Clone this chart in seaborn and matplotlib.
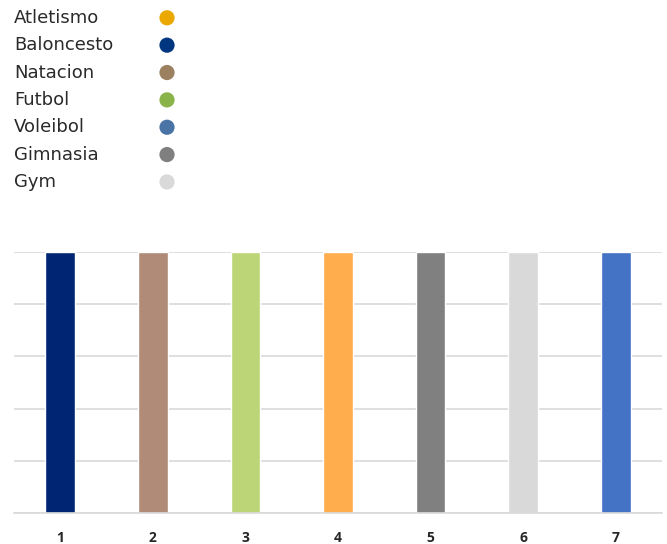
import matplotlib
matplotlib.use("Agg")
import matplotlib.pyplot as plt
import seaborn as sns
import pandas as pd

# legend entries (top-left key)
SPORTS = ["Atletismo", "Baloncesto", "Natacion", "Futbol", "Voleibol", "Gimnasia", "Gym"]
SPORT_COLORS = ["#EAA800", "#003580", "#9C8160", "#8AB34A", "#4A74A6", "#7F7F7F", "#D9D9D9"]

# bars
CATEGORIES = ["1", "2", "3", "4", "5", "6", "7"]
VALUES = [5, 5, 5, 5, 5, 5, 5]
BAR_COLORS = ["#002673", "#B08B77", "#BCD576", "#FFAD4D", "#808080", "#D9D9D9", "#4472C4"]


def main():
    sns.set_theme(style="white")
    plt.rcParams["font.family"] = ["DejaVu Sans"]

    fig = plt.figure(figsize=(6.67, 5.44), dpi=100)

    # bar chart
    ax = fig.add_axes([0.021, 0.057, 0.9715, 0.48])
    df = pd.DataFrame({"cat": CATEGORIES, "val": VALUES})
    sns.barplot(data=df, x="cat", y="val", hue="cat", palette=BAR_COLORS,
                legend=False, width=0.32, saturation=1, ax=ax)
    ax.set_xlim(-0.5, 6.5)
    ax.set_ylim(0, 5)
    ax.set_yticks(range(0, 6))
    ax.set_yticklabels([])
    ax.yaxis.grid(True, color="#D9D9D9", linewidth=1.2)
    ax.set_axisbelow(True)
    ax.set_xlabel("")
    ax.set_ylabel("")
    for side in ["top", "right", "left"]:
        ax.spines[side].set_visible(False)
    ax.spines["bottom"].set_color("#D9D9D9")
    ax.spines["bottom"].set_linewidth(1.2)
    ax.tick_params(axis="x", length=0, pad=13)
    ax.tick_params(axis="y", length=0)
    for lbl in ax.get_xticklabels():
        lbl.set_fontweight("bold")
        lbl.set_fontsize(10)
        lbl.set_color("#262626")
        lbl.set_family(["Open Sans", "DejaVu Sans"])

    # key at the top
    lax = fig.add_axes([0.021, 0.6404, 0.2294, 0.352])
    lax.set_xlim(0, 1)
    rows = list(range(len(SPORTS)))
    lax.set_ylim(len(SPORTS) - 0.5, -0.5)
    lax.scatter([1] * len(SPORTS), rows, c=SPORT_COLORS, s=120, clip_on=False, linewidths=0)
    for r, name in zip(rows, SPORTS):
        lax.text(0, r, name, va="center", ha="left", fontsize=13, color="#2a2a2a")
    lax.axis("off")

    fig.savefig("out.png", dpi=100)
    plt.close(fig)


if __name__ == "__main__":
    main()
